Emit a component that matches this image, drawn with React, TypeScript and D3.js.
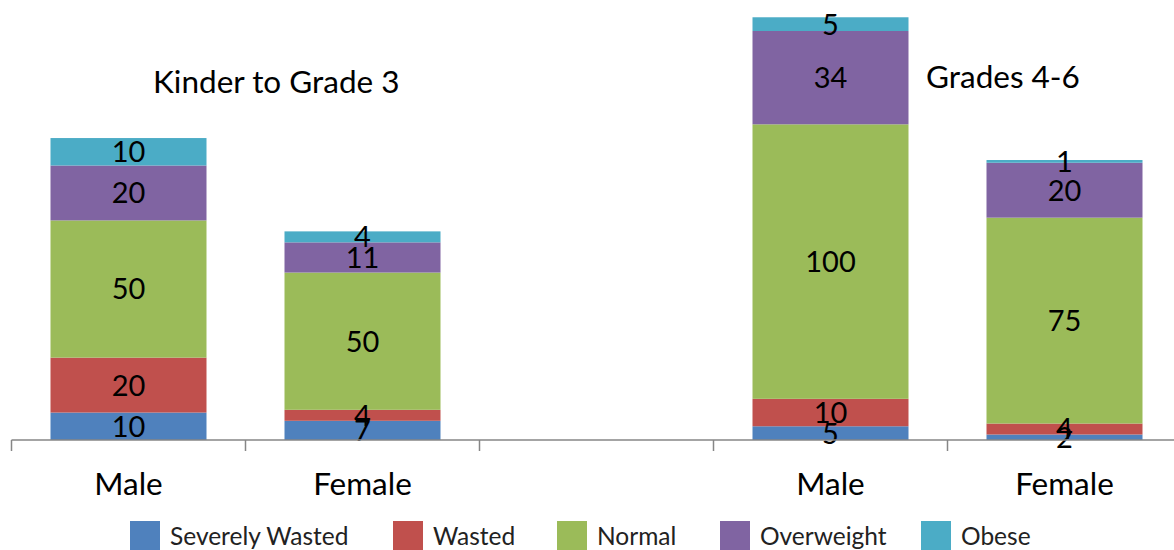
import React from "react";
import * as d3 from "d3";

const categories = ["Male", "Female", "", "Male", "Female"];
const seriesNames = ["Severely Wasted", "Wasted", "Normal", "Overweight", "Obese"];
const severelyWasted = [10, 7, 0, 5, 2];
const wasted = [20, 4, 0, 10, 4];
const normal = [50, 50, 0, 100, 75];
const overweight = [20, 11, 0, 34, 20];
const obese = [10, 4, 0, 5, 1];
const groupTitles = ["Kinder to Grade 3", "Grades 4-6"];
const colors = ["#4F81BD", "#C0504D", "#9BBB59", "#8064A2", "#4BACC6"];

const W = 1174;
const H = 550;
const FONT = "Lato, 'Open Sans', sans-serif";

export default function App() {
  const rows = categories.map((c, i) => ({
    idx: String(i),
    "Severely Wasted": severelyWasted[i],
    Wasted: wasted[i],
    Normal: normal[i],
    Overweight: overweight[i],
    Obese: obese[i],
  }));
  const stacked = d3.stack<any>().keys(seriesNames)(rows);

  const left = 11.5;
  const step = 234;
  const x = d3
    .scaleBand<string>()
    .domain(categories.map((_, i) => String(i)))
    .range([left, left + step * categories.length])
    .paddingInner(1 / 3)
    .paddingOuter(1 / 6);
  const y = d3.scaleLinear().domain([0, 160]).range([440, 0.8]);
  const baseY = y(0);

  const ticks = d3.range(categories.length + 1).map((i) => left + i * step);

  return (
    <svg
      width={W}
      height={H}
      style={{ position: "absolute", left: 0, top: 0, background: "#fff" }}
      fontFamily={FONT}
    >
      {stacked.map((s, si) =>
        s.map((d, i) => {
          const v = d[1] - d[0];
          if (!v) return null;
          const x0 = x(String(i))!;
          return (
            <rect
              key={`${si}-${i}`}
              x={x0}
              y={y(d[1])}
              width={x.bandwidth()}
              height={y(d[0]) - y(d[1])}
              fill={colors[si]}
            />
          );
        })
      )}
      {stacked.map((s, si) =>
        s.map((d, i) => {
          const v = d[1] - d[0];
          if (!v) return null;
          const cx = x(String(i))! + x.bandwidth() / 2;
          const cy = (y(d[0]) + y(d[1])) / 2;
          return (
            <text
              key={`t${si}-${i}`}
              x={cx}
              y={cy}
              dy="0.36em"
              textAnchor="middle"
              fontSize={29}
              fill="#000"
            >
              {v}
            </text>
          );
        })
      )}
      <line x1={left} x2={W} y1={baseY} y2={baseY} stroke="#868686" strokeWidth={1.5} />
      {ticks.map((t, i) => (
        <line key={i} x1={t} x2={t} y1={baseY} y2={baseY + 11} stroke="#868686" strokeWidth={1.5} />
      ))}
      {categories.map((c, i) =>
        c ? (
          <text
            key={`c${i}`}
            x={x(String(i))! + x.bandwidth() / 2}
            y={495}
            textAnchor="middle"
            fontSize={31.5}
            fill="#000"
          >
            {c}
          </text>
        ) : null
      )}
      <text x={153} y={93} fontSize={31.5} fill="#000">
        {groupTitles[0]}
      </text>
      <text x={926} y={88} fontSize={31.5} fill="#000">
        {groupTitles[1]}
      </text>
      {(() => {
        const legendX = [130, 393, 557, 720, 921];
        return seriesNames.map((n, i) => (
          <g key={n}>
            <rect x={legendX[i]} y={521} width={30} height={32} fill={colors[i]} />
            <text x={legendX[i] + 40} y={545} fontSize={24.5} fill="#222">
              {n}
            </text>
          </g>
        ));
      })()}
    </svg>
  );
}
